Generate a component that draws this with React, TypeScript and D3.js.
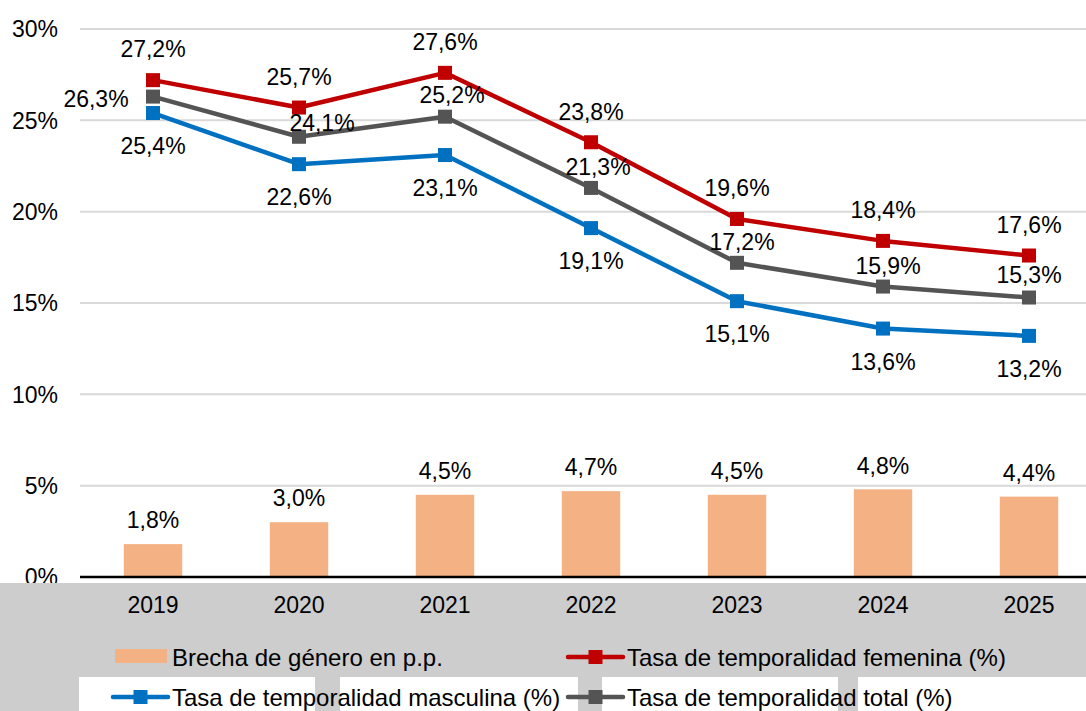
import React from 'react';
import * as d3 from 'd3';

const years = ['2019', '2020', '2021', '2022', '2023', '2024', '2025'];
const gapValues = [1.8, 3.0, 4.5, 4.7, 4.5, 4.8, 4.4];
const femaleValues = [27.2, 25.7, 27.6, 23.8, 19.6, 18.4, 17.6];
const maleValues = [25.4, 22.6, 23.1, 19.1, 15.1, 13.6, 13.2];
const totalValues = [26.3, 24.1, 25.2, 21.3, 17.2, 15.9, 15.3];
const yTicks = [0, 5, 10, 15, 20, 25, 30];

const legendLabels = {
  gap: 'Brecha de género en p.p.',
  female: 'Tasa de temporalidad femenina (%)',
  male: 'Tasa de temporalidad masculina (%)',
  total: 'Tasa de temporalidad total (%)',
};

// label placement for the grey series (Excel put them by hand)
const totalLabelOffsets: [number, number][] = [
  [-57, 2], [23, -14], [7, -22], [7, -21], [5, -21], [5, -21], [0, -23],
];

const W = 1086;
const H = 711;
const FONT = '"Liberation Sans", Arial, sans-serif';
const FS = 23;
const LEGEND_FS = 24;

const RED = '#C00000';
const BLUE = '#0070C0';
const GREY = '#545454';
const BAR = '#F4B183';
const BAND = '#CDCDCD';

const fmt = (v: number) => v.toFixed(1).replace('.', ',') + '%';

export default function App() {
  const x = d3.scaleBand<string>().domain(years).range([80, 1102]).padding(0);
  const cx = (d: string) => (x(d) as number) + x.bandwidth() / 2;
  const barW = x.bandwidth() * 0.4;
  const y = d3.scaleLinear().domain([0, 30]).range([577, 29]);

  const line = d3
    .line<number>()
    .x((_, i) => cx(years[i]))
    .y((v) => y(v));

  const series = [
    { key: 'male', values: maleValues, color: BLUE },
    { key: 'total', values: totalValues, color: GREY },
    { key: 'female', values: femaleValues, color: RED },
  ];

  const M = 14;

  const text = (t: string, px: number, py: number, anchor = 'middle', key?: string, fs = FS) => (
    <text
      key={key}
      x={px}
      y={py}
      dy="0.36em"
      textAnchor={anchor}
      fontFamily={FONT}
      fontSize={fs}
      fill="#000"
    >
      {t}
    </text>
  );

  const legendLine = (x0: number, yy: number, color: string) => (
    <g>
      <line x1={x0} x2={x0 + 55} y1={yy} y2={yy} stroke={color} strokeWidth={4.5} strokeLinecap="round" />
      <rect x={x0 + 27.5 - 7} y={yy - 7} width={14} height={14} fill={color} />
    </g>
  );

  return (
    <div style={{ position: 'absolute', left: 0, top: 0 }}>
      <svg width={W} height={H} style={{ display: 'block' }}>
        <rect x={0} y={0} width={W} height={H} fill="#fff" />

        {/* grid */}
        {yTicks.filter((t) => t > 0).map((t) => (
          <line key={t} x1={80} x2={W} y1={y(t)} y2={y(t)} stroke="#D9D9D9" strokeWidth={2} />
        ))}
        {yTicks.map((t) => text(`${t}%`, 58, y(t), 'end', 'yt' + t))}

        {/* bars */}
        {years.map((d, i) => (
          <rect
            key={d}
            x={cx(d) - barW / 2}
            y={y(gapValues[i])}
            width={barW}
            height={y(0) - y(gapValues[i])}
            fill={BAR}
          />
        ))}
        {years.map((d, i) => text(fmt(gapValues[i]), cx(d), y(gapValues[i]) - 24, 'middle', 'bl' + d))}

        <line x1={80} x2={W} y1={y(0)} y2={y(0)} stroke="#000" strokeWidth={2.5} />

        {/* lines */}
        {series.map((s) => (
          <g key={s.key}>
            <path d={line(s.values) as string} fill="none" stroke={s.color} strokeWidth={4.5} strokeLinejoin="round" />
            {s.values.map((v, i) => (
              <rect key={i} x={cx(years[i]) - M / 2} y={y(v) - M / 2} width={M} height={M} fill={s.color} />
            ))}
          </g>
        ))}

        {years.map((d, i) => text(fmt(femaleValues[i]), cx(d), y(femaleValues[i]) - 31, 'middle', 'fl' + d))}
        {years.map((d, i) => text(fmt(maleValues[i]), cx(d), y(maleValues[i]) + 33, 'middle', 'ml' + d))}
        {years.map((d, i) =>
          text(
            fmt(totalValues[i]),
            cx(d) + totalLabelOffsets[i][0],
            y(totalValues[i]) + totalLabelOffsets[i][1],
            'middle',
            'tl' + d
          )
        )}

        {/* bottom band */}
        <rect x={0} y={583} width={W} height={H - 583} fill={BAND} />
        {years.map((d) => text(d, cx(d), 605, 'middle', 'x' + d))}

        <rect x={79} y={677} width={315 - 79} height={H - 677} fill="#fff" />
        <rect x={340} y={677} width={578 - 340} height={H - 677} fill="#fff" />
        <rect x={602} y={677} width={838 - 602} height={H - 677} fill="#fff" />
        <rect x={858} y={677} width={W - 858} height={H - 677} fill="#fff" />

        {/* legend */}
        <rect x={115} y={649} width={52} height={14} fill={BAR} />
        {text(legendLabels.gap, 172, 657, 'start', 'lg1', LEGEND_FS)}
        {legendLine(568, 657, RED)}
        {text(legendLabels.female, 627, 657, 'start', 'lg2', LEGEND_FS)}
        {legendLine(113, 697, BLUE)}
        {text(legendLabels.male, 172, 697, 'start', 'lg3', LEGEND_FS)}
        {legendLine(568, 697, GREY)}
        {text(legendLabels.total, 627, 697, 'start', 'lg4', LEGEND_FS)}
      </svg>
    </div>
  );
}
